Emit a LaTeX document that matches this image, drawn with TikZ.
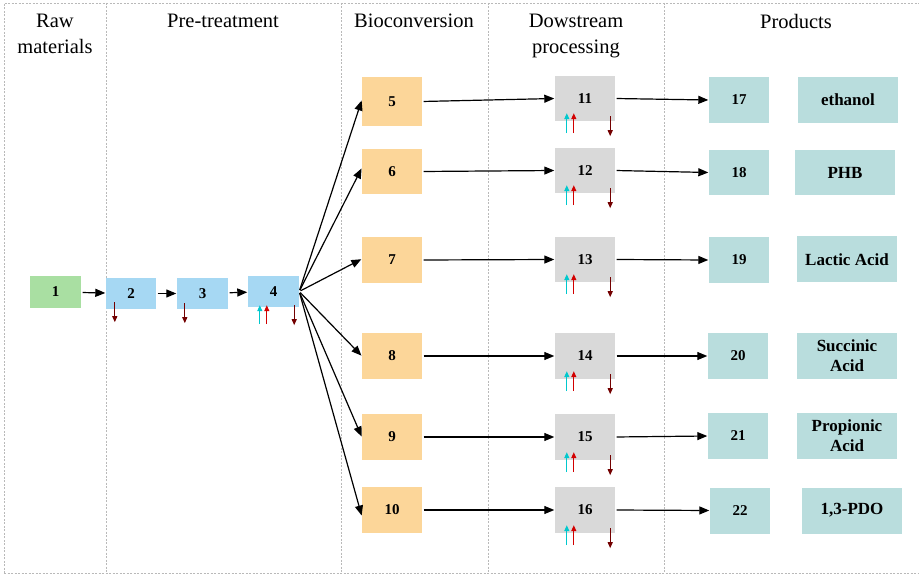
\documentclass[tikz,border=0pt]{standalone}
\usepackage{fontspec}
\setmainfont{Liberation Serif}
\usetikzlibrary{arrows.meta}

\definecolor{rawgreen}{RGB}{169,223,162}
\definecolor{pretblue}{RGB}{166,216,243}
\definecolor{bioorange}{RGB}{252,214,153}
\definecolor{dspgray}{RGB}{217,217,217}
\definecolor{prodteal}{RGB}{185,221,221}
\definecolor{incyan}{RGB}{0,200,205}
\definecolor{inred}{RGB}{210,0,0}
\definecolor{outred}{RGB}{115,0,0}
\definecolor{gridgray}{RGB}{185,185,185}

\tikzset{
  unitbox/.style={inner sep=0pt, minimum width=60, minimum height=46,
    font=\bfseries\fontsize{15}{15}\selectfont},
  rawbox/.style={unitbox, fill=rawgreen, minimum width=51, minimum height=32},
  pretbox/.style={unitbox, fill=pretblue, minimum width=51, minimum height=31},
  biobox/.style={unitbox, fill=bioorange},
  dspbox/.style={unitbox, fill=dspgray},
  prodbox/.style={unitbox, fill=prodteal},
  namebox/.style={unitbox, fill=prodteal, minimum width=100, align=center,
    font=\bfseries\fontsize{17}{20}\selectfont},
  header/.style={inner sep=0pt, anchor=north, align=center,
    font=\fontsize{20.5}{26}\selectfont},
  flow/.style={-{Triangle[length=10pt,width=8pt]}, line width=1.2pt,
    shorten <=1.5pt, shorten >=0.5pt},
  grid/.style={gridgray, line width=0.8pt, dash pattern=on 2pt off 1.5pt},
  feedin/.style={-{Triangle[length=6pt,width=5pt]}, line width=1.1pt, incyan},
  chemin/.style={-{Triangle[length=6pt,width=5pt]}, line width=1.1pt, inred},
  waste/.style={-{Triangle[length=6pt,width=5pt]}, line width=1.1pt, outred},
}

\begin{document}
\begin{tikzpicture}[x=1pt, y=-1pt]
  \useasboundingbox (0,0) rectangle (919,577);

  % column frame
  \draw[grid] (4,573) -- (4,3) -- (925,3);
  \draw[grid] (4,573) -- (925,573);
  \foreach \xx in {106,341,488,664} \draw[grid] (\xx,3) -- (\xx,573);

  % column headings
  \node[header] (hraw) at (55,14) {Raw\\materials};
  \node[header] (hpre) at (223,14) {Pre-treatment};
  \node[header] (hbio) at (414,14) {Bioconversion};
  \node[header] (hdsp) at (576,14) {Dowstream\\processing};
  \node[header] (hprod) at (796,14) {Products};

  % raw material and pre-treatment
  \node[rawbox] (b1) at (55.5,292) {1};
  \node[pretbox, minimum width=50] (b2) at (131,293.5) {2};
  \node[pretbox] (b3) at (202.5,293.5) {3};
  \node[pretbox] (b4) at (273.5,291.5) {4};

  % bioconversion
  \node[biobox, minimum height=49] (b5) at (392,101.5) {5};
  \node[biobox, minimum height=45] (b6) at (392,171.5) {6};
  \node[biobox] (b7) at (392,260) {7};
  \node[biobox] (b8) at (392,356) {8};
  \node[biobox] (b9) at (392,437) {9};
  \node[biobox] (b10) at (392,510) {10};

  % downstream processing
  \node[dspbox, minimum height=45] (b11) at (585,98.5) {11};
  \node[dspbox, minimum height=45] (b12) at (585,170.5) {12};
  \node[dspbox, minimum height=45] (b13) at (585,259.5) {13};
  \node[dspbox] (b14) at (585,356) {14};
  \node[dspbox] (b15) at (585,437) {15};
  \node[dspbox] (b16) at (585,510) {16};

  % products
  \node[prodbox] (b17) at (739,100) {17};
  \node[prodbox, minimum height=45] (b18) at (739,172.5) {18};
  \node[prodbox] (b19) at (739,260) {19};
  \node[prodbox] (b20) at (738,356) {20};
  \node[prodbox] (b21) at (738,436) {21};
  \node[prodbox] (b22) at (740,510.5) {22};

  \node[namebox] (p17) at (848,100) {ethanol};
  \node[namebox, minimum height=45] (p18) at (845,173) {PHB};
  \node[namebox] (p19) at (847,259.5) {Lactic Acid};
  \node[namebox] (p20) at (847,356) {Succinic\\Acid};
  \node[namebox] (p21) at (847,436) {Propionic\\Acid};
  \node[namebox] (p22) at (852,510.5) {1,3-PDO};

  % main flow
  \draw[flow] (b1) -- (b2);
  \draw[flow] (b2) -- (b3);
  \draw[flow] (b3) -- (b4);
  \draw[flow] (b4.east) -- ([yshift=1.5]b5.west);
  \draw[flow] (b4.east) -- ([yshift=3.5]b6.west);
  \draw[flow] (b4.east) -- ([yshift=1]b7.west);
  \draw[flow] (b4.east) -- (b8.west);
  \draw[flow] (b4.east) -- (b9.west);
  \draw[flow] (b4.east) -- ([yshift=-6]b10.west);
  \foreach \i/\j/\k in {5/11/17, 6/12/18, 7/13/19, 8/14/20, 9/15/21, 10/16/22} {
    \draw[flow] (b\i.east) -- (b\j.west);
    \draw[flow] (b\j.east) -- (b\k.west);
  }

  % side streams of the pre-treatment steps
  \draw[waste] ([shift={(9,-7)}]b2.south west) -- ([shift={(9,13)}]b2.south west);
  \draw[waste] ([shift={(8,-6)}]b3.south west) -- ([shift={(8,14)}]b3.south west);
  \draw[feedin] ([shift={(12,17)}]b4.south west) -- ([shift={(12,-2)}]b4.south west);
  \draw[chemin] ([shift={(19,17)}]b4.south west) -- ([shift={(19,-2)}]b4.south west);
  \draw[waste] ([shift={(-5,-2)}]b4.south east) -- ([shift={(-5,18)}]b4.south east);

  % side streams of the downstream steps
  \foreach \j in {11,...,16} {
    \draw[feedin] ([shift={(12,12)}]b\j.south west) -- ([shift={(12,-8)}]b\j.south west);
    \draw[chemin] ([shift={(19,12)}]b\j.south west) -- ([shift={(19,-8)}]b\j.south west);
    \draw[waste] ([shift={(-5,-5)}]b\j.south east) -- ([shift={(-5,15)}]b\j.south east);
  }
\end{tikzpicture}
\end{document}
